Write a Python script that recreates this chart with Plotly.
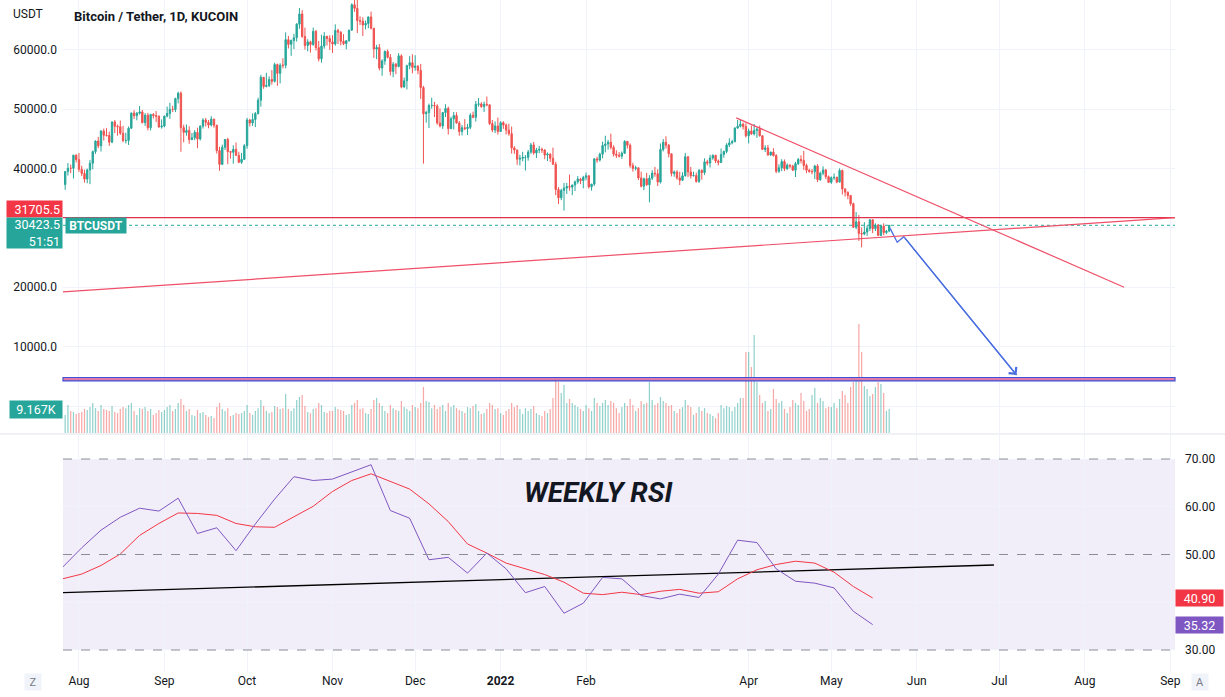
import pandas as pd
import plotly.graph_objects as go

# ---------------- data ----------------
start_day = "2021-07-27"
first_open = 37280

closes = [
    # Jul 27-31
    39480, 40030, 40020, 42220, 41470,
    # Aug
    39850, 39150, 38200, 39740, 40870, 42830, 44610, 43800, 46280, 45590, 45540, 44420, 47820, 47090, 47010, 45920,
    44690, 44710, 46760, 49320, 48860, 49280, 49510, 47700, 48950, 46850, 49080, 48900, 48800, 46980, 47130,
    # Sep
    48810, 49250, 49940, 49920, 51760, 52660, 46860, 46060, 46400, 44850, 45150, 46060, 44960, 47110, 48140, 47760,
    47300, 48300, 47260, 43000, 40680, 43560, 44880, 42830, 42720, 43210, 42200, 41030, 41520, 43820,
    # Oct
    48150, 47650, 48230, 49240, 51490, 55340, 53800, 53950, 54960, 54660, 57480, 56000, 57370, 57350, 61670, 60880,
    61530, 62010, 64280, 66000, 62210, 60690, 61300, 60850, 63080, 60330, 58450, 60600, 62250, 61880, 61300,
    # Nov
    60950, 63230, 62930, 61400, 61000, 61500, 63300, 67550, 66950, 64880, 64800, 64150, 64400, 65500, 63600, 60100,
    60350, 56900, 58100, 59700, 58700, 56300, 57550, 57150, 58950, 53700, 54750, 57300, 57800, 57000,
    # Dec
    57200, 56500, 53600, 49200, 49400, 50600, 50600, 50500, 47650, 47150, 49400, 50100, 46700, 48350, 48900, 47650,
    46200, 46850, 46700, 46900, 48950, 48600, 50800, 50850, 50400, 50800, 50700, 47550, 46450, 47150, 46200,
    # Jan
    47700, 47300, 46450, 45850, 43450, 43100, 41550, 41700, 41850, 41850, 42750, 43950, 42600, 43100, 43200, 43100,
    42250, 42400, 41700, 40700, 36450, 35050, 36300, 36700, 36950, 36850, 37200, 37750, 38200, 37950, 38500,
    # Feb
    38750, 36900, 37350, 41600, 41400, 42400, 43850, 44100, 44400, 43550, 42400, 42200, 42050, 42550, 44550, 43900,
    40500, 40000, 40100, 38400, 37000, 38250, 37250, 38350, 39200, 39100, 37700, 43200,
    # Mar
    44400, 43900, 42450, 39150, 39400, 38400, 38000, 38750, 41950, 39400, 38750, 38800, 37800, 39650, 39300, 41100,
    40900, 41750, 42200, 41250, 41000, 42350, 42850, 43950, 44300, 44500, 46800, 47100, 47450, 47050, 45500,
    # Apr
    46300, 45800, 46400, 46600, 45500, 43200, 43450, 42250, 42750, 42150, 39500, 40100, 41150, 39950, 40550, 40400,
    39700, 40800, 41500, 41350, 40500, 39700, 39450, 39450, 40400, 38100, 39200, 39750, 38600, 37650,
    # May 1-22
    38450, 38500, 37700, 39650, 36550, 36000, 35450, 34050, 30100, 31000, 29050, 28950, 29300, 29900, 31350, 29850,
    30450, 28700, 30300, 29200, 29450, 30423.5,
]

highs = [
    39550, 40900, 40650, 42300, 42400,
    42600, 40450, 39780, 39970, 41400, 43000, 44700, 45300, 46450, 46700, 46780, 46200, 47900, 48150, 47380, 48050,
    47150, 46000, 47050, 49400, 49800, 49500, 50500, 49850, 49300, 49350, 49200, 49300, 49650, 48900, 48250,
    48850, 50400, 51050, 50550, 51900, 52900, 52950, 47350, 47400, 47100, 45950, 46450, 46850, 47250, 48450, 48500,
    48150, 48800, 48350, 47350, 43650, 44000, 44950, 45150, 42950, 43900, 44350, 42800, 42600, 44100,
    48500, 48350, 49250, 49500, 51900, 55750, 55350, 56100, 55500, 56550, 57800, 57650, 57700, 58550, 62900, 62300,
    61700, 62650, 64450, 67000, 66650, 63700, 61750, 61500, 63700, 63300, 61450, 62500, 62950, 62300, 62400,
    62400, 64250, 63500, 63100, 62600, 61550, 63300, 67800, 68500, 69000, 65600, 65450, 64900, 65550, 66400, 63600,
    60800, 60950, 58350, 59850, 60000, 59250, 57900, 57750, 59400, 59200, 55300, 57450, 58900, 59200,
    59050, 57400, 57600, 53900, 49700, 50900, 51900, 51200, 50800, 50100, 49500, 50800, 50400, 48700, 49500, 49450,
    47950, 47300, 48300, 47500, 49300, 49550, 51350, 51850, 51150, 51250, 52100, 50700, 48150, 47900, 48550,
    47950, 47950, 47550, 47500, 47050, 43750, 43150, 42300, 42800, 42250, 43100, 44300, 44450, 43450, 43800, 43500,
    43200, 42700, 42550, 43500, 41100, 36850, 36550, 37550, 37550, 38950, 37250, 37950, 38700, 38400, 38750,
    39300, 38850, 37400, 41750, 41950, 42650, 44500, 45500, 44800, 45850, 43900, 43050, 42750, 42850, 44750, 44550,
    44200, 40950, 40450, 40150, 39450, 38450, 39250, 38850, 39700, 40250, 39850, 44200,
    44950, 45400, 44100, 42500, 39650, 39700, 39450, 39350, 42600, 42050, 40250, 39450, 39300, 39900, 39850, 41700,
    41450, 42300, 42350, 42300, 41500, 43350, 43000, 44250, 45050, 44800, 46900, 48150, 48200, 47700, 47600,
    46700, 47200, 47450, 46850, 47200, 45500, 43900, 43950, 42800, 43400, 42400, 40700, 41550, 41500, 40850, 40700,
    40600, 41100, 41750, 42200, 42950, 40800, 39950, 39900, 40600, 40750, 39450, 40350, 39900, 38800,
    38650, 39150, 38600, 40000, 39800, 36650, 36100, 35500, 34250, 32650, 32150, 30050, 30950, 30350, 31400, 31350,
    30750, 30650, 30500, 30750, 29650, 30480,
]

lows = [
    36400, 38800, 39200, 38300, 41000,
    39400, 38700, 37600, 37500, 37350, 39850, 42450, 43400, 42850, 44700, 45350, 43800, 44250, 45950, 45500, 45650,
    44400, 44200, 43950, 46650, 48300, 48100, 49050, 47600, 47150, 46400, 46400, 48400, 47800, 46850, 46700,
    46900, 48600, 48350, 49500, 49500, 50950, 42800, 44400, 45500, 44150, 44750, 44750, 43400, 44700, 46700, 47050,
    46750, 47050, 46850, 42500, 39600, 40550, 43100, 40700, 41650, 40800, 42100, 40900, 40750, 41400,
    43300, 47050, 47150, 46950, 49050, 50400, 53400, 53650, 53700, 54100, 54450, 53900, 54300, 56850, 56850, 60200,
    58950, 60100, 61350, 63500, 62000, 60000, 59700, 59500, 60650, 59850, 58000, 57800, 60150, 60700, 59950,
    59450, 60650, 60950, 60700, 60750, 60050, 61350, 63150, 66350, 62800, 64150, 62300, 63400, 63600, 63400, 58600,
    58400, 56500, 55600, 57450, 58500, 55650, 55350, 55850, 57000, 53500, 53600, 53300, 56700, 56000,
    56450, 55850, 51700, 40800, 47700, 46800, 50050, 48650, 47350, 46900, 46650, 48650, 45700, 46600, 46550, 47550,
    45500, 45550, 46450, 45600, 46600, 48450, 47900, 50400, 50200, 49500, 50450, 47300, 46100, 45950, 45700,
    46200, 46650, 45700, 45500, 42500, 42450, 40600, 40500, 41200, 39650, 41300, 42450, 42300, 41750, 42550, 42600,
    41550, 41250, 41100, 40600, 35500, 34000, 34650, 32900, 35700, 36250, 35500, 36200, 37400, 37350, 36650,
    38000, 36600, 36250, 37050, 40950, 41150, 41700, 42700, 43150, 43200, 42000, 41750, 41850, 41600, 42450, 43350,
    40100, 39450, 39650, 38050, 36800, 36350, 37050, 34300, 38050, 38600, 37050, 37450,
    42850, 43350, 41850, 38650, 38600, 38100, 37200, 37900, 38650, 38550, 38300, 38650, 37600, 37550, 38100, 38900,
    40500, 40150, 41450, 40900, 40500, 40900, 41800, 42550, 43600, 44050, 44400, 46650, 46900, 46550, 45200,
    44200, 45650, 45550, 45150, 45350, 43150, 42750, 42150, 42150, 42000, 39200, 39250, 39550, 39550, 39750, 40000,
    39550, 38550, 40550, 40850, 39750, 39200, 39300, 39000, 38200, 37700, 37900, 38850, 38200, 37600,
    37400, 38050, 37500, 37650, 35600, 35250, 34800, 33700, 30050, 29750, 27800, 26700, 28750, 28650, 29450, 29100,
    29450, 28700, 28650, 28750, 28950, 29250,
]

# daily volume (thousand BTC)
volumes = [
    6.9, 10.7, 8.4, 8.0, 7.3,
    7.6, 8.0, 9.2, 8.8, 9.9, 11.5, 9.5, 8.4, 10.7, 9.2, 8.8, 8.4, 10.3, 8.0, 7.6, 9.2, 9.9, 9.5, 10.7, 11.5, 8.4,
    6.9, 9.5, 9.2, 9.9, 8.4, 9.2, 6.9, 7.6, 8.8, 8.0,
    8.8, 9.9, 10.7, 8.4, 9.2, 11.5, 13.0, 10.7, 8.4, 9.2, 6.9, 6.5, 8.8, 7.6, 8.0, 6.9, 6.1, 6.5, 5.7, 9.9, 11.5,
    9.2, 8.4, 9.5, 6.5, 6.9, 7.6, 7.3, 7.6, 8.4,
    10.7, 7.6, 6.9, 8.4, 9.5, 12.6, 10.3, 8.4, 7.6, 8.0, 10.3, 9.9, 9.2, 9.5, 14.9, 9.2, 8.4, 9.5, 12.6, 13.8, 14.5,
    10.3, 8.0, 7.6, 9.2, 9.5, 11.5, 10.7, 8.0, 7.6, 8.4,
    8.4, 9.9, 9.2, 8.8, 8.4, 6.9, 7.3, 10.7, 11.5, 12.6, 9.2, 9.5, 7.6, 7.3, 9.2, 12.6, 13.4, 11.5, 10.3, 8.4, 7.6,
    10.7, 9.5, 8.8, 8.4, 12.2, 9.9, 9.2, 8.4, 10.7,
    9.9, 9.5, 11.5, 17.6, 12.2, 11.8, 9.5, 10.7, 9.2, 9.9, 10.7, 8.4, 11.5, 9.9, 10.7, 9.5, 8.8, 8.4, 7.6, 9.9, 9.5,
    10.3, 11.1, 8.4, 7.3, 7.6, 9.2, 11.5, 10.7, 9.2, 9.5,
    7.6, 6.9, 8.4, 9.2, 11.5, 9.9, 10.7, 9.2, 7.3, 9.5, 8.4, 9.2, 10.3, 7.6, 6.9, 6.5, 8.4, 7.6, 9.2, 13.4, 21.4,
    19.5, 15.3, 18.3, 11.5, 13.0, 11.5, 10.7, 9.9, 9.2, 8.4,
    10.7, 9.5, 8.4, 13.4, 11.5, 10.3, 11.5, 12.6, 10.7, 12.2, 11.5, 9.5, 7.6, 9.9, 11.5, 10.3, 13.0, 10.7, 8.4, 9.5,
    12.2, 11.1, 11.5, 19.5, 12.6, 10.7, 11.5, 13.8,
    12.2, 11.5, 10.3, 10.7, 8.4, 7.6, 9.2, 9.9, 12.6, 10.7, 9.9, 6.9, 7.6, 9.9, 8.4, 9.5, 7.6, 7.3, 6.5, 5.7, 7.6,
    10.7, 9.5, 10.3, 9.9, 8.4, 9.9, 11.5, 13.4, 13.4, 30.9,
    30.9, 25.2, 37.4, 19.5, 14.5, 11.5, 12.2, 8.4, 9.2, 16.8, 13.0, 11.5, 12.2, 9.2, 7.6, 9.9, 12.6, 11.5, 10.7, 15.3,
    12.2, 8.4, 9.2, 14.5, 17.2, 11.5, 13.4, 12.2, 9.5, 10.0,
    9.9, 11.5, 9.5, 13.0, 16.0, 14.5, 11.5, 17.6, 19.5, 21.4, 41.6, 30.9, 18.0, 16.8, 14.1, 14.9, 17.6, 19.5, 18.7,
    15.3, 8.4, 9.167,
]

# weekly RSI (14) and its moving average
rsi_start = "2021-07-26"
rsi_values = [47.3, 51.4, 55.1, 57.8, 59.7, 59.1, 61.8, 54.4, 55.6, 50.8, 56.4, 61.6, 66.3, 65.5, 65.8, 67.3, 68.8,
              59.2, 57.6, 48.9, 49.4, 46.1, 50.3, 47.0, 42.0, 43.3, 37.7, 39.8, 45.2, 44.9, 41.4, 40.7, 41.7, 41.0,
              45.9, 53.0, 52.5, 47.0, 44.4, 44.0, 43.0, 38.1, 35.32]
rsi_ma_values = [44.9, 45.9, 47.7, 50.1, 54.0, 56.5, 58.7, 58.6, 58.2, 56.5, 55.8, 55.7, 57.9, 60.1, 63.2, 65.5, 66.9,
                 65.3, 63.7, 60.6, 56.9, 52.2, 50.3, 48.2, 47.0, 45.8, 44.2, 41.9, 41.6, 42.1, 41.6, 42.3, 42.7, 41.9,
                 42.2, 44.9, 46.8, 47.9, 48.6, 48.2, 46.3, 43.3, 40.90]

# drawings (data coordinates)
level_price = 31705.5
support_dates = ["2021-07-26", "2022-09-02 17:00"]
support_prices = [19200, 31705.5]
resist_dates = ["2022-03-27 12:00", "2022-08-15 06:00"]
resist_prices = [48500, 20000]
arrow_dates = ["2022-05-22 08:00", "2022-05-24 22:00", "2022-05-27 07:00", "2022-07-07 05:00"]
arrow_prices = [29900, 27560, 28500, 5220]
band_prices = [4230, 4800]
rsi_trend_dates = ["2021-07-26", "2022-06-29"]
rsi_trend_values = [42.0, 47.8]

month_ticks = ["2021-08-01", "2021-09-01", "2021-10-01", "2021-11-01", "2021-12-01", "2022-01-01", "2022-02-01",
               "2022-04-01", "2022-05-01", "2022-06-01", "2022-07-01", "2022-08-01", "2022-09-01"]
month_labels = ["Aug", "Sep", "Oct", "Nov", "Dec", "<b>2022</b>", "Feb", "Apr", "May", "Jun", "Jul", "Aug", "Sep"]
price_ticks = [0, 10000, 20000, 30000, 40000, 50000, 60000]
price_labels = ["", "10000.0", "20000.0", "", "40000.0", "50000.0", "60000.0"]
rsi_ticks = [30, 40, 50, 60, 70]
rsi_labels = ["30.00", "", "50.00", "60.00", "70.00"]

n = len(closes)
if not (len(highs) == n and len(lows) == n and len(volumes) == n):
    raise SystemExit(f"length mismatch {n} {len(highs)} {len(lows)} {len(volumes)}")
if len(rsi_values) != len(rsi_ma_values):
    raise SystemExit("rsi length mismatch")

dates = pd.date_range(start_day, periods=n, freq="D")
opens = [first_open] + closes[:-1]          # crypto daily open = previous close
rsi_dates = pd.date_range(rsi_start, periods=len(rsi_values), freq="7D")

UP = "#26a69a"
DN = "#ef5350"
vol_colors = ["rgba(38,166,154,0.5)" if c >= o else "rgba(239,83,80,0.5)" for o, c in zip(opens, closes)]

FONT = "Roboto"
TXT = "#131722"
GRID = "#f0f3fa"

fig = go.Figure()

fig.add_trace(go.Bar(x=dates, y=volumes, xaxis="x2", yaxis="y3", marker=dict(color=vol_colors, line=dict(width=0)),
                     width=86400000 * 0.45, hoverinfo="skip"))
fig.add_trace(go.Candlestick(x=dates, open=opens, high=highs, low=lows, close=closes, xaxis="x2", yaxis="y",
                             increasing=dict(line=dict(color=UP, width=1), fillcolor=UP),
                             decreasing=dict(line=dict(color=DN, width=1), fillcolor=DN),
                             whiskerwidth=0, hoverinfo="skip"))
fig.add_trace(go.Scatter(x=arrow_dates, y=arrow_prices, xaxis="x2", yaxis="y", mode="lines",
                         line=dict(color="#4a6ee0", width=1.3), hoverinfo="skip"))

fig.add_trace(go.Scatter(x=rsi_trend_dates, y=rsi_trend_values, xaxis="x", yaxis="y2", mode="lines",
                         line=dict(color="#000000", width=1.3), hoverinfo="skip"))
fig.add_trace(go.Scatter(x=rsi_dates, y=rsi_ma_values, xaxis="x", yaxis="y2", mode="lines",
                         line=dict(color="#f23645", width=1), hoverinfo="skip"))
fig.add_trace(go.Scatter(x=rsi_dates, y=rsi_values, xaxis="x", yaxis="y2", mode="lines",
                         line=dict(color="#7e57c2", width=1), hoverinfo="skip"))

# ---------- shapes ----------
shapes = []
# RSI band and levels
shapes.append(dict(type="rect", xref="x domain", yref="y2", x0=0, x1=1, y0=30, y1=70,
                   fillcolor="rgba(126,87,194,0.1)", line=dict(width=0), layer="below"))
for lv in (70, 50, 30):
    shapes.append(dict(type="line", xref="x domain", yref="y2", x0=0, x1=1, y0=lv, y1=lv,
                       line=dict(color="#8a8d96", width=1, dash="dash")))
# price drawings
shapes.append(dict(type="rect", xref="x2 domain", yref="y", x0=0, x1=1, y0=band_prices[0], y1=band_prices[1],
                   fillcolor="#e07aa8", line=dict(color="#3f51d6", width=1.2)))
shapes.append(dict(type="line", xref="x2 domain", yref="y", x0=0, x1=1, y0=level_price, y1=level_price,
                   line=dict(color="#e0304e", width=1.2)))
shapes.append(dict(type="line", xref="x2 domain", yref="y", x0=0, x1=1, y0=closes[-1], y1=closes[-1],
                   line=dict(color="#26a69a", width=1, dash="dot")))
shapes.append(dict(type="line", xref="x2", yref="y", x0=support_dates[0], x1=support_dates[1],
                   y0=support_prices[0], y1=support_prices[1], line=dict(color="#ef4f68", width=1.2)))
shapes.append(dict(type="line", xref="x2", yref="y", x0=resist_dates[0], x1=resist_dates[1],
                   y0=resist_prices[0], y1=resist_prices[1], line=dict(color="#ef4f68", width=1.2)))
# pane separator
shapes.append(dict(type="line", xref="paper", yref="paper", x0=-0.06, x1=1.05, y0=1 - 434 / 672, y1=1 - 434 / 672,
                   line=dict(color="#e0e3eb", width=1)))

# ---------- annotations ----------
ann = []
ann.append(dict(xref="x2", yref="y", x=arrow_dates[-1], y=arrow_prices[-1], axref="x2", ayref="y",
                ax=arrow_dates[-2], ay=arrow_prices[-2], showarrow=True, arrowhead=4, arrowsize=1.6,
                arrowwidth=1.2, arrowcolor="#4a6ee0", text=""))
ann.append(dict(xref="paper", yref="paper", x=(72 - 63) / 1112, y=1 - 16 / 672, xanchor="left", yanchor="middle",
                text="<b>Bitcoin / Tether, 1D, KUCOIN</b>", showarrow=False,
                font=dict(family=FONT, size=13, color=TXT)))
ann.append(dict(xref="paper", yref="paper", x=(11 - 63) / 1112, y=1 - 14 / 672, xanchor="left", yanchor="middle",
                text="USDT", showarrow=False, font=dict(family=FONT, size=12, color=TXT)))
ann.append(dict(xref="paper", yref="paper", x=(598 - 63) / 1112, y=1 - 493 / 672, xanchor="center",
                yanchor="middle", text="<b><i>WEEKLY RSI</i></b>", showarrow=False,
                font=dict(family=FONT, size=28, color=TXT)))
# price axis labels
ann.append(dict(xref="paper", yref="y", x=0, y=level_price, yshift=8.5, xanchor="right", yanchor="middle",
                text="31705.5", showarrow=False, bgcolor="#f23645", width=51, height=12, borderpad=2,
                align="right", font=dict(family=FONT, size=12.5, color="white")))
ann.append(dict(xref="paper", yref="y", x=0, y=closes[-1], yshift=-7.5, xanchor="right", yanchor="middle",
                text=f"{closes[-1]}<br>51:51", showarrow=False, bgcolor="#26a69a", width=51, height=26,
                borderpad=2, align="right", font=dict(family=FONT, size=12.5, color="white")))
ann.append(dict(xref="paper", yref="y", x=(65 - 63) / 1112, y=closes[-1], xanchor="left", yanchor="middle",
                text="<b>BTCUSDT</b>", showarrow=False, bgcolor="#26a69a", width=56, height=11, borderpad=2,
                font=dict(family=FONT, size=12, color="white")))
ann.append(dict(xref="paper", yref="y3", x=0, y=volumes[-1], xanchor="right", yanchor="middle",
                text=f"{volumes[-1]:.3f}K", showarrow=False, bgcolor="#26a69a", width=48, height=13,
                borderpad=2, align="center", font=dict(family=FONT, size=12.5, color="white")))
# RSI axis labels
ann.append(dict(xref="paper", yref="y2", x=1, y=rsi_ma_values[-1], xanchor="left", yanchor="middle",
                text=f"{rsi_ma_values[-1]:.2f}", showarrow=False, bgcolor="#f23645", width=43, height=12,
                borderpad=2, font=dict(family=FONT, size=12.5, color="white")))
ann.append(dict(xref="paper", yref="y2", x=1, y=rsi_values[-1], xanchor="left", yanchor="middle",
                text=f"{rsi_values[-1]:.2f}", showarrow=False, bgcolor="#7e57c2", width=43, height=12,
                borderpad=2, font=dict(family=FONT, size=12.5, color="white")))
# corner buttons
ann.append(dict(xref="paper", yref="paper", x=(33 - 63) / 1112, y=1 - 682 / 672, xanchor="center",
                yanchor="middle", text="Z", showarrow=False, bgcolor="#f0f3fa", width=14, height=14,
                font=dict(family=FONT, size=11, color="#787b86")))
ann.append(dict(xref="paper", yref="paper", x=(1200 - 63) / 1112, y=1 - 682 / 672, xanchor="center",
                yanchor="middle", text="A", showarrow=False, bgcolor="#f0f3fa", width=14, height=14,
                font=dict(family=FONT, size=11, color="#787b86")))

x_left = "2021-07-26 05:00"
x_right = "2022-09-02 17:00"

fig.update_layout(
    width=1225, height=697,
    margin=dict(l=63, r=50, t=0, b=25),
    paper_bgcolor="white", plot_bgcolor="white",
    showlegend=False, hovermode=False,
    font=dict(family=FONT, size=12, color=TXT),
    shapes=shapes, annotations=ann,
    xaxis=dict(domain=[0, 1], anchor="y2", type="date", range=[x_left, x_right],
               tickmode="array", tickvals=month_ticks, ticktext=month_labels,
               showgrid=True, gridcolor=GRID, ticks="", showline=False, zeroline=False,
               tickfont=dict(family=FONT, size=12, color=TXT), rangeslider=dict(visible=False)),
    xaxis2=dict(domain=[0, 1], anchor="y", type="date", matches="x", range=[x_left, x_right],
                tickmode="array", tickvals=month_ticks, showticklabels=False,
                showgrid=True, gridcolor=GRID, ticks="", showline=False, zeroline=False,
                rangeslider=dict(visible=False)),
    yaxis=dict(domain=[1 - 433 / 672, 1], anchor="x2", side="left", range=[-4545, 68350],
               tickmode="array", tickvals=price_ticks, ticktext=price_labels,
               showgrid=True, gridcolor=GRID, zeroline=False, ticks="", showline=False,
               ticklabelstandoff=5, tickfont=dict(family=FONT, size=12, color=TXT)),
    yaxis3=dict(overlaying="y", anchor="x2", range=[0, 165.4], visible=False, showgrid=False),
    yaxis2=dict(domain=[0, (672 - 435) / 672], anchor="x", side="right", range=[25.39, 75.03],
                tickmode="array", tickvals=rsi_ticks, ticktext=rsi_labels,
                showgrid=True, gridcolor=GRID, zeroline=False, ticks="", showline=False,
                ticklabelstandoff=9, tickfont=dict(family=FONT, size=12, color=TXT)),
)

fig.write_html("out.html", config={"displayModeBar": False},
               post_script="document.body.style.margin='0px';document.body.style.overflow='hidden';")
